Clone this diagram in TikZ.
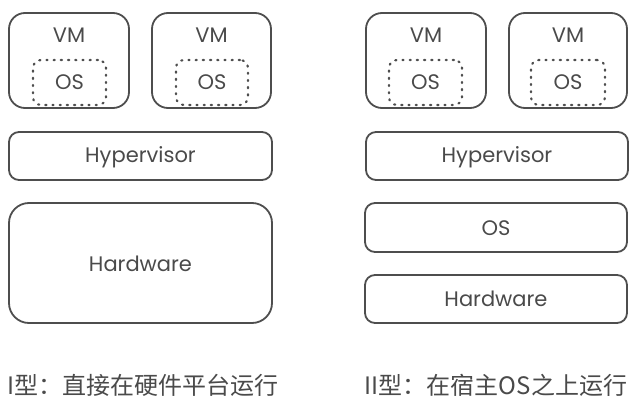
\documentclass[tikz,border=0pt]{standalone}
\usepackage{fontspec}
\setmainfont{Poppins}
\newfontfamily\cjk{Noto Sans CJK SC}
\definecolor{ln}{HTML}{4E4E4E}
\definecolor{tx}{HTML}{4A4A4A}
\tikzset{
  box/.style={draw=ln, line width=1.8pt, inner sep=0pt},
  osdot/.style={draw=ln, line width=2.2pt, dash pattern=on 1.2pt off 6pt, line cap=round, rounded corners=8pt, inner sep=0pt},
  lbl/.style={text=tx, font=\fontsize{21}{24}\selectfont, inner sep=0pt},
  captxt/.style={text=tx, font=\cjk\fontsize{24}{28}\selectfont, inner sep=0pt},
}
\begin{document}
\begin{tikzpicture}[x=1pt,y=-1pt]
\useasboundingbox (0,0) rectangle (641,407);
% left column
\node[box, rounded corners=16pt, minimum width=120pt, minimum height=95pt] (vm1) at (69,60.5) {};
\node[osdot, minimum width=73pt, minimum height=45pt] (os1) at (69.5,82.5) {};
\node[lbl] (vm1t) at (69,35) {VM};
\node[lbl] (os1t) at (69.5,82) {OS};
\node[box, rounded corners=16pt, minimum width=119pt, minimum height=95pt] (vm2) at (211.5,60.5) {};
\node[osdot, minimum width=72pt, minimum height=45pt] (os2) at (212,82.5) {};
\node[lbl] (vm2t) at (211.5,35) {VM};
\node[lbl] (os2t) at (212,82) {OS};
\node[box, rounded corners=10pt, minimum width=263pt, minimum height=48pt] (hypl) at (140.5,156) {};
\node[lbl] (hyplt) at (140.5,157) {Hypervisor};
\node[box, rounded corners=20pt, minimum width=263pt, minimum height=120pt] (hwl) at (140.5,263) {};
\node[lbl] (hwlt) at (140.5,264) {Hardware};
% right column
\node[box, rounded corners=16pt, minimum width=120pt, minimum height=95pt] (vm3) at (426,60.5) {};
\node[osdot, minimum width=73pt, minimum height=45pt] (os3) at (425.5,82.5) {};
\node[lbl] (vm3t) at (426,35) {VM};
\node[lbl] (os3t) at (425.5,82) {OS};
\node[box, rounded corners=16pt, minimum width=118pt, minimum height=95pt] (vm4) at (568,60.5) {};
\node[osdot, minimum width=74pt, minimum height=45pt] (os4) at (568,82.5) {};
\node[lbl] (vm4t) at (568,35) {VM};
\node[lbl] (os4t) at (568,82) {OS};
\node[box, rounded corners=10pt, minimum width=262pt, minimum height=48pt] (hypr) at (497,156) {};
\node[lbl] (hyprt) at (497,157) {Hypervisor};
\node[box, rounded corners=10pt, minimum width=262pt, minimum height=49pt] (osr) at (496,227.5) {};
\node[lbl] (osrt) at (496,228) {OS};
\node[box, rounded corners=10pt, minimum width=262pt, minimum height=48pt] (hwr) at (496,299) {};
\node[lbl] (hwrt) at (496,299) {Hardware};
% captions
\node[captxt] (capl) at (143,385) {I型：直接在硬件平台运行};
\node[captxt] (capr) at (496,385) {II型：在宿主OS之上运行};
\end{tikzpicture}
\end{document}
